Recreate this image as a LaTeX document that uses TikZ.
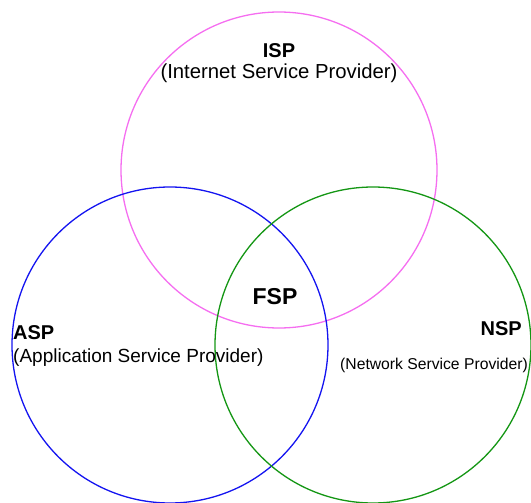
\documentclass[tikz,border=0pt]{standalone}
\usepackage{fontspec}
\setmainfont{Liberation Sans}
\usepackage{xcolor}
\usepackage{tikz}
\usetikzlibrary{positioning}

\definecolor{ispcol}{RGB}{245,110,240}
\definecolor{aspcol}{RGB}{20,20,240}
\definecolor{nspcol}{RGB}{20,150,20}

\begin{document}
\begin{tikzpicture}[
    x=1pt, y=-1pt,
    ring/.style={circle, draw, line width=1.3pt, minimum size=316pt, inner sep=0pt},
    title/.style={font=\bfseries\fontsize{20}{24}\selectfont, inner sep=0pt, anchor=base},
    subtitle/.style={font=\fontsize{19}{23}\selectfont, inner sep=0pt, anchor=base}
]
\useasboundingbox (0,0) rectangle (531,503);

% De drie cirkels
\node[ring, draw=ispcol] (isp) at (279,170) {};
\node[ring, draw=aspcol] (asp) at (170,345) {};
\node[ring, draw=nspcol] (nsp) at (373,345) {};

% Labels
\node[title] (ispname) at (279,58) {ISP};
\node[subtitle, font=\fontsize{20.3}{24}\selectfont] (isptext) at (279,79) {(Internet Service Provider)};

\node[title, anchor=base west] (aspname) at (13,339) {ASP};
\node[subtitle, anchor=base west] (asptext) at (13,362) {(Application Service Provider)};

\node[title, anchor=base east] (nspname) at (522,335) {NSP};
\node[subtitle, anchor=base east, font=\fontsize{15.7}{19}\selectfont] (nsptext) at (528,369) {(Network Service Provider)};

% Doorsnede
\node[title, font=\bfseries\fontsize{23}{27}\selectfont] (fsp) at (275,304) {FSP};

\end{tikzpicture}
\end{document}
